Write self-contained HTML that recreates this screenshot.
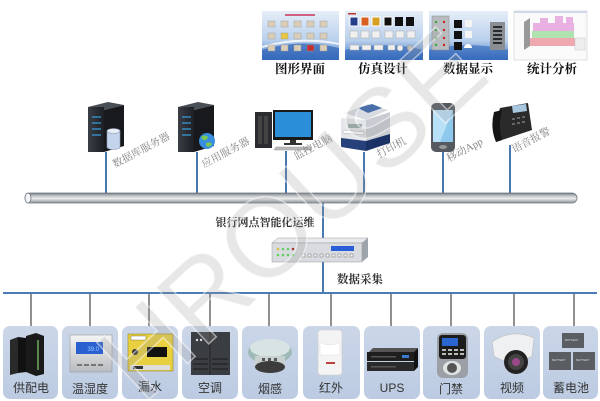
<!DOCTYPE html>
<html><head><meta charset="utf-8">
<style>
html,body{margin:0;padding:0;background:#fff;width:600px;height:401px;overflow:hidden;}
svg{display:block;}
.cap{font-family:"Liberation Serif","Noto Serif CJK SC","Noto Sans CJK SC",serif;font-weight:bold;fill:#111;font-size:12.5px;}
.rot{font-family:"Liberation Serif","Noto Serif CJK SC","Noto Sans CJK SC",serif;fill:#858585;font-size:10.5px;}
.bl{font-family:"Liberation Sans","Noto Sans CJK SC",sans-serif;fill:#333;font-size:12px;}
.mid{font-family:"Liberation Serif","Noto Serif CJK SC","Noto Sans CJK SC",serif;font-weight:bold;fill:#333;}
</style></head>
<body>
<svg width="600" height="401" viewBox="0 0 600 401" xmlns="http://www.w3.org/2000/svg">
<defs>
<linearGradient id="pipe" x1="0" y1="0" x2="0" y2="1">
<stop offset="0" stop-color="#6f7880"/><stop offset="0.25" stop-color="#b8bcc0"/><stop offset="0.55" stop-color="#ececec"/><stop offset="1" stop-color="#8a9096"/>
</linearGradient>
<linearGradient id="scr" x1="0" y1="0" x2="0" y2="1">
<stop offset="0" stop-color="#e6eef8"/><stop offset="0.6" stop-color="#b9d0ec"/><stop offset="1" stop-color="#3d74c4"/>
</linearGradient>
<linearGradient id="srv" x1="0" y1="0" x2="1" y2="0">
<stop offset="0" stop-color="#3a3e45"/><stop offset="1" stop-color="#1c1f24"/>
</linearGradient>
<linearGradient id="sil" x1="0" y1="0" x2="0" y2="1">
<stop offset="0" stop-color="#f4f4f4"/><stop offset="1" stop-color="#b9bcc0"/>
</linearGradient>
<linearGradient id="box" x1="0" y1="0" x2="0" y2="1">
<stop offset="0" stop-color="#cbd6e8"/><stop offset="1" stop-color="#bccbe2"/>
</linearGradient>
</defs>

<!-- ===== top screenshots ===== -->
<g>
<rect x="262" y="11" width="77" height="49" fill="url(#scr)"/>
<path d="M262 50 Q300 38 339 48 L339 60 L262 60Z" fill="#2f64b8" opacity="0.7"/>
<path d="M262 47 Q300 36 339 44" stroke="#fff" stroke-width="2" fill="none" opacity="0.8"/>
<rect x="285" y="14" width="30" height="2" fill="#d06080"/>
<g fill="#d9cdb8" stroke="#999" stroke-width="0.4">
<rect x="268" y="21" width="7" height="6"/><rect x="281" y="21" width="7" height="6"/><rect x="294" y="21" width="7" height="6"/><rect x="307" y="21" width="7" height="6"/><rect x="320" y="21" width="7" height="6"/>
<rect x="268" y="33" width="7" height="6"/><rect x="281" y="33" width="7" height="6" fill="#e8c840"/><rect x="294" y="33" width="7" height="6"/><rect x="307" y="33" width="7" height="6"/><rect x="320" y="33" width="7" height="6"/>
<rect x="268" y="45" width="7" height="6"/><rect x="281" y="45" width="7" height="6"/><rect x="294" y="45" width="7" height="6"/><rect x="307" y="45" width="7" height="6" fill="#c03030"/><rect x="320" y="45" width="7" height="6"/>
</g>

<rect x="345" y="11" width="78" height="49" fill="url(#scr)"/>
<path d="M345 50 Q385 40 423 50 L423 60 L345 60Z" fill="#2f64b8" opacity="0.6"/>
<rect x="348" y="13" width="8" height="1.5" fill="#c03030"/>
<rect x="350" y="17" width="8" height="9" fill="#233f8a" stroke="#fff" stroke-width="1"/>
<rect x="361" y="17" width="8" height="9" fill="#d86020" stroke="#fff" stroke-width="1"/>
<rect x="372" y="17" width="8" height="9" fill="#d8a020" stroke="#fff" stroke-width="1"/>
<rect x="384" y="17" width="8" height="9" fill="#111" stroke="#fff" stroke-width="1"/>
<rect x="395" y="17" width="8" height="9" fill="#111"/>
<rect x="406" y="17" width="8" height="9" fill="#111"/>
<g fill="#f0f0f0" stroke="#aaa" stroke-width="0.5">
<rect x="350" y="31" width="8" height="7"/><rect x="361" y="31" width="8" height="7"/><rect x="372" y="31" width="8" height="7"/><rect x="385" y="31" width="8" height="7"/><rect x="396" y="31" width="8" height="7"/><rect x="407" y="31" width="8" height="7"/>
<rect x="350" y="45" width="9" height="5"/><rect x="362" y="45" width="9" height="5"/><rect x="374" y="45" width="9" height="5"/><rect x="388" y="45" width="7" height="5"/>
</g>
<circle cx="400" cy="48" r="3" fill="#eee" stroke="#999" stroke-width="0.5"/><circle cx="410" cy="48" r="3" fill="#bbb" stroke="#888" stroke-width="0.5"/>

<rect x="429" y="11" width="79" height="49" fill="url(#scr)"/>
<path d="M429 50 Q468 40 508 50 L508 60 L429 60Z" fill="#2f64b8" opacity="0.6"/>
<rect x="432" y="16" width="17" height="34" fill="#b8bcc0" stroke="#888" stroke-width="0.5"/>
<g fill="#3a3"><circle cx="436" cy="22" r="1.2"/><circle cx="436" cy="30" r="1.2"/><circle cx="436" cy="38" r="1.2"/><circle cx="436" cy="45" r="1.2"/></g>
<g fill="#c22"><circle cx="444" cy="22" r="1.2"/><circle cx="444" cy="30" r="1.2"/><circle cx="444" cy="38" r="1.2"/><circle cx="444" cy="45" r="1.2"/></g>
<rect x="454" y="20" width="8" height="8" fill="#111"/><rect x="454" y="31" width="8" height="8" fill="#111"/><rect x="454" y="42" width="8" height="8" fill="#111"/>
<rect x="465" y="20" width="7" height="7" fill="#f4f4f4"/><rect x="465" y="31" width="7" height="7" fill="#f4f4f4"/>
<path d="M464 48 a4 4 0 0 1 8 0z" fill="#fff"/>
<rect x="490" y="22" width="15" height="28" fill="#8a8e92"/>
<g fill="#2a2d30"><rect x="493" y="26" width="9" height="2"/><rect x="493" y="30" width="9" height="2"/><rect x="493" y="34" width="9" height="2"/><rect x="493" y="38" width="9" height="2"/><rect x="493" y="42" width="9" height="2"/></g>

<rect x="514" y="11" width="73" height="49" fill="#fafafa" stroke="#ccc" stroke-width="0.6"/>
<rect x="514" y="11" width="73" height="2" fill="#d0d8e8"/>
<path d="M524 22 L530 18 L530 46 L524 50Z" fill="#999"/>
<g opacity="0.9">
<rect x="530" y="38" width="45" height="8" fill="#f0a0a8"/>
<rect x="532" y="31" width="42" height="7" fill="#a8e0a8"/>
<rect x="533" y="23" width="41" height="8" fill="#e8a8e0"/>
<rect x="540" y="18" width="8" height="5" fill="#e8a8e0"/><rect x="555" y="16" width="8" height="7" fill="#e8a8e0"/><rect x="566" y="17" width="7" height="6" fill="#e8a8e0"/>
</g>
<rect x="575" y="38" width="10" height="12" fill="#eee" stroke="#bbb" stroke-width="0.4"/>

<text class="cap" x="300" y="73" text-anchor="middle">图形界面</text>
<text class="cap" x="383" y="73" text-anchor="middle">仿真设计</text>
<text class="cap" x="468" y="73" text-anchor="middle">数据显示</text>
<text class="cap" x="552" y="73" text-anchor="middle">统计分析</text>
</g>

<!-- ===== vertical connectors to pipe ===== -->
<g stroke="#4a78b0" stroke-width="2">
<line x1="106" y1="152" x2="106" y2="194"/>
<line x1="197" y1="152" x2="197" y2="194"/>
<line x1="286" y1="151" x2="286" y2="194"/>
<line x1="364" y1="152" x2="364" y2="194"/>
<line x1="443" y1="152" x2="443" y2="194"/>
<line x1="510" y1="145" x2="510" y2="194"/>
<line x1="323" y1="202" x2="323" y2="240"/>
<line x1="323" y1="260" x2="323" y2="293"/>
</g>

<!-- ===== pipe ===== -->
<rect x="25" y="193" width="552" height="10" rx="5" fill="url(#pipe)" stroke="#6d7680" stroke-width="0.8"/>
<ellipse cx="28" cy="198" rx="3" ry="5" fill="#f4f4f4" stroke="#6d7680" stroke-width="0.8"/>

<!-- ===== top devices ===== -->
<path d="M88 107 L108 102 L124 105 L104 110Z" fill="#4a4e55"/>
<path d="M104 110 L124 105 L124 146 L104 152Z" fill="#17191c"/>
<rect x="88" y="107" width="16" height="45" fill="url(#srv)"/>
<g stroke="#3aa0e0" stroke-width="1.2"><line x1="92" y1="117" x2="101" y2="117"/><line x1="92" y1="123" x2="101" y2="123"/><line x1="92" y1="129" x2="101" y2="129"/><line x1="92" y1="135" x2="101" y2="135"/></g>
<path d="M107 131 L107 147 A6.5 2.5 0 0 0 120 147 L120 131Z" fill="#c4d4ec" stroke="#8a9ab8" stroke-width="0.6"/>
<ellipse cx="113.5" cy="131" rx="6.5" ry="2.5" fill="#e8eef8" stroke="#8a9ab8" stroke-width="0.6"/>

<path d="M178 107 L198 102 L214 105 L194 110Z" fill="#4a4e55"/>
<path d="M194 110 L214 105 L214 146 L194 152Z" fill="#17191c"/>
<rect x="178" y="107" width="16" height="45" fill="url(#srv)"/>
<g stroke="#3aa0e0" stroke-width="1.2"><line x1="182" y1="117" x2="191" y2="117"/><line x1="182" y1="123" x2="191" y2="123"/><line x1="182" y1="129" x2="191" y2="129"/><line x1="182" y1="135" x2="191" y2="135"/></g>
<circle cx="207" cy="141" r="8" fill="#3a8ee0"/>
<path d="M201 137 q4 -3 7 0 q-1 4 -5 3z M206 143 q4 -2 6 1 q-2 4 -6 2z" fill="#7cc850"/>

<rect x="255" y="112" width="17" height="36" fill="#2a2c30"/>
<rect x="258" y="116" width="4" height="28" fill="#444"/><rect x="264" y="116" width="4" height="28" fill="#444"/>
<rect x="273" y="110" width="40" height="30" fill="#1a1a1a"/>
<rect x="275" y="112" width="36" height="25" fill="#2a8fd8"/>
<rect x="290" y="140" width="6" height="4" fill="#333"/><rect x="284" y="143" width="18" height="2" fill="#333"/>
<path d="M276 147 L310 147 L312 150 L274 150Z" fill="#bbb" stroke="#888" stroke-width="0.4"/>

<path d="M345 113 L368 104 L388 110 L366 120Z" fill="#d8dce2"/>
<path d="M358 108 L372 104 L382 108 L368 113Z" fill="#4a6ea8"/>
<path d="M341 118 L366 120 L366 150 L341 146Z" fill="#e4e6ea"/>
<path d="M366 120 L390 112 L390 142 L366 150Z" fill="#c8ccd2"/>
<path d="M341 138 L366 141 L366 151 L341 147Z" fill="#26407a"/>
<path d="M366 141 L390 134 L390 143 L366 151Z" fill="#1c3266"/>
<rect x="348" y="124" width="14" height="4" fill="#9aa"/>
<path d="M343 130 L364 132 L364 135 L343 133Z" fill="#fff" stroke="#999" stroke-width="0.4"/>

<rect x="431" y="103" width="24" height="49" rx="5" fill="#555a60"/>
<rect x="433" y="110" width="20" height="32" fill="#8ec8ec"/>
<path d="M433 110 L453 110 L440 142 L433 142Z" fill="#b8e0f6"/>
<ellipse cx="443" cy="147" rx="4" ry="2" fill="#999"/>

<path d="M500 108 L528 103 L532 130 L496 142 L494 130Z" fill="#2a2a2a"/>
<path d="M494 112 Q490 128 496 142 L502 140 Q498 126 502 110Z" fill="#151515"/>
<path d="M512 106 L526 104 L527 111 L513 113Z" fill="#a8c8e0"/>
<g fill="#666"><rect x="512" y="118" width="3" height="2"/><rect x="517" y="117" width="3" height="2"/><rect x="522" y="116" width="3" height="2"/><rect x="512" y="123" width="3" height="2"/><rect x="517" y="122" width="3" height="2"/><rect x="522" y="121" width="3" height="2"/></g>

<text class="rot" transform="translate(115,168) rotate(-28)">数据库服务器</text>
<text class="rot" transform="translate(204,168) rotate(-28)">应用服务器</text>
<text class="rot" transform="translate(296,160) rotate(-28)">监控电脑</text>
<text class="rot" transform="translate(379,158) rotate(-28)">打印机</text>
<text class="rot" transform="translate(449,162) rotate(-28)">移动App</text>
<text class="rot" transform="translate(514,153) rotate(-28)">语音报警</text>

<!-- ===== switch ===== -->
<path d="M272 243 L278 238 L368 238 L362 243Z" fill="#e8eaee" stroke="#999" stroke-width="0.5"/>
<path d="M362 243 L368 238 L368 257 L362 262Z" fill="#9ea4ac"/>
<rect x="272" y="243" width="90" height="19" fill="#d8dce0" stroke="#999" stroke-width="0.5"/>
<g><circle cx="278" cy="249" r="1.3" fill="#d8c040"/><circle cx="283" cy="249" r="1.3" fill="#6c6"/><circle cx="288" cy="249" r="1.3" fill="#6c6"/><circle cx="293" cy="249" r="1.3" fill="#a33"/>
<circle cx="278" cy="255" r="1.3" fill="#6c6"/><circle cx="283" cy="255" r="1.3" fill="#6c6"/><circle cx="288" cy="255" r="1.3" fill="#6c6"/><circle cx="293" cy="255" r="1.3" fill="#6c6"/></g>
<rect x="331" y="246" width="23" height="5" fill="#2a5ed8"/>
<g fill="#f4f4f4" stroke="#777" stroke-width="0.5">
<rect x="302" y="254" width="3" height="3"/><rect x="308" y="254" width="3" height="3"/><rect x="314" y="254" width="3" height="3"/><rect x="320" y="254" width="3" height="3"/><rect x="326" y="254" width="3" height="3"/><rect x="332" y="254" width="3" height="3"/><rect x="338" y="254" width="3" height="3"/><rect x="344" y="254" width="3" height="3"/><rect x="350" y="254" width="3" height="3"/>
</g>
<text class="mid" x="265" y="226" text-anchor="middle" font-size="11">银行网点智能化运维</text>
<text class="mid" x="360" y="283" text-anchor="middle" font-size="11.5">数据采集</text>

<!-- ===== bus ===== -->
<line x1="3" y1="293" x2="597" y2="293" stroke="#4a7cb5" stroke-width="2"/>
<g stroke="#6a6a6a" stroke-width="1.5">
<line x1="31" y1="294" x2="31" y2="327"/><line x1="90" y1="294" x2="90" y2="327"/><line x1="149" y1="294" x2="149" y2="327"/><line x1="210" y1="294" x2="210" y2="327"/><line x1="269" y1="294" x2="269" y2="327"/>
<line x1="331" y1="294" x2="331" y2="327"/><line x1="391" y1="294" x2="391" y2="327"/><line x1="451" y1="294" x2="451" y2="327"/><line x1="514" y1="294" x2="514" y2="327"/><line x1="574" y1="294" x2="574" y2="327"/>
</g>

<!-- ===== bottom boxes ===== -->
<g fill="url(#box)">
<rect x="3" y="326" width="55" height="73" rx="7"/>
<rect x="62" y="326" width="56" height="73" rx="7"/>
<rect x="122" y="326" width="56" height="73" rx="7"/>
<rect x="182" y="326" width="56" height="73" rx="7"/>
<rect x="242" y="326" width="56" height="73" rx="7"/>
<rect x="303" y="326" width="57" height="73" rx="7"/>
<rect x="364" y="326" width="56" height="73" rx="7"/>
<rect x="423" y="326" width="57" height="73" rx="7"/>
<rect x="484" y="326" width="56" height="73" rx="7"/>
<rect x="543" y="326" width="55" height="73" rx="7"/>
</g>

<path d="M10 340 L18 337 L18 373 L10 375Z" fill="#2a2a2a"/>
<path d="M18 337 L26 338 L26 372 L18 373Z" fill="#111"/>
<path d="M26 336 L36 333 L44 336 L44 374 L36 376 L26 372Z" fill="#1a1a1a"/>
<rect x="37" y="340" width="2" height="30" fill="#5a8a4a"/>

<rect x="70" y="335" width="42" height="37" fill="url(#sil)" stroke="#999" stroke-width="0.6"/>
<rect x="76" y="342" width="27" height="12" fill="#2a60d0"/>
<text x="99" y="351" font-family="Liberation Sans,sans-serif" font-size="6" fill="#9cf" text-anchor="end">39.0</text>
<g fill="#777"><rect x="77" y="364" width="5" height="2"/><rect x="84" y="364" width="5" height="2"/><rect x="91" y="364" width="5" height="2"/><rect x="98" y="364" width="5" height="2"/></g>

<rect x="128" y="334" width="45" height="37" fill="#e8d040" stroke="#998820" stroke-width="0.6"/>
<rect x="131" y="336" width="15" height="4" fill="#fff" stroke="#333" stroke-width="0.3"/>
<rect x="147" y="347" width="20" height="10" fill="#111"/>
<circle cx="135" cy="352" r="3" fill="#333"/>
<rect x="130" y="365" width="40" height="5" fill="#ddd"/>
<rect x="133" y="366" width="10" height="3" fill="#333"/>

<rect x="191" y="332" width="39" height="43" fill="#3a3d42"/>
<line x1="210" y1="332" x2="210" y2="375" stroke="#222"/>
<g stroke="#222" stroke-width="1.2"><line x1="193" y1="359" x2="208" y2="359"/><line x1="193" y1="364" x2="208" y2="364"/><line x1="193" y1="369" x2="208" y2="369"/><line x1="212" y1="359" x2="228" y2="359"/><line x1="212" y1="364" x2="228" y2="364"/><line x1="212" y1="369" x2="228" y2="369"/></g>
<circle cx="197" cy="340" r="1.2" fill="#ddd"/><circle cx="201" cy="340" r="1.2" fill="#ddd"/>

<ellipse cx="270" cy="352" rx="22" ry="12" fill="#9fb8b8"/>
<ellipse cx="270" cy="348" rx="20" ry="9" fill="#d8e4e4"/>
<rect x="255" y="356" width="30" height="10" fill="#c8d0d0"/>
<ellipse cx="270" cy="367" rx="15" ry="6" fill="#3c3c3c"/>
<g fill="#555"><rect x="262" y="358" width="3" height="3"/><rect x="268" y="358" width="3" height="3"/><rect x="274" y="358" width="3" height="3"/></g>

<rect x="318" y="330" width="24" height="45" rx="3" fill="#f4f4f4" stroke="#ccc" stroke-width="0.6"/>
<path d="M320 342 Q330 348 340 342 L340 355 L320 355Z" fill="#fff" stroke="#ddd" stroke-width="0.5"/>
<rect x="326" y="362" width="9" height="2" fill="#c04040"/>

<path d="M369 352 L373 348 L418 348 L414 352Z" fill="#555"/>
<rect x="367" y="352" width="47" height="9" fill="#1e1e1e"/>
<rect x="367" y="362" width="47" height="9" fill="#2a2a2a"/>
<path d="M414 352 L418 348 L418 367 L414 371Z" fill="#111"/>
<rect x="402" y="355" width="7" height="3" fill="#3a7ad0"/>
<rect x="371" y="356" width="25" height="1.5" fill="#555"/><rect x="371" y="366" width="25" height="1.5" fill="#555"/>

<rect x="437" y="333" width="31" height="45" rx="6" fill="#9aa0a6"/>
<rect x="439" y="335" width="27" height="24" rx="3" fill="#1c1c1c"/>
<rect x="442" y="338" width="16" height="8" fill="#2a66d0"/>
<g fill="#bbb"><rect x="442" y="349" width="4" height="2"/><rect x="448" y="349" width="4" height="2"/><rect x="454" y="349" width="4" height="2"/><rect x="460" y="349" width="4" height="2"/><rect x="442" y="353" width="4" height="2"/><rect x="448" y="353" width="4" height="2"/><rect x="454" y="353" width="4" height="2"/><rect x="460" y="353" width="4" height="2"/></g>
<ellipse cx="452" cy="368" rx="9" ry="7" fill="#e0e2e4"/><circle cx="452" cy="368" r="5" fill="#555"/>

<path d="M492 342 Q512 328 534 338 L532 356 Q512 368 494 356Z" fill="#eef0f2" stroke="#bbb" stroke-width="0.6"/>
<circle cx="516" cy="362" r="12" fill="#222"/>
<circle cx="516" cy="362" r="8" fill="#444"/>
<circle cx="516" cy="362" r="4" fill="#9a4a8a"/>

<g>
<rect x="562" y="333" width="22" height="15" fill="#5a5e62"/>
<rect x="549" y="352" width="22" height="18" fill="#5a5e62"/>
<rect x="573" y="352" width="22" height="18" fill="#5a5e62"/>
<g font-family="Liberation Sans,sans-serif" font-size="3" fill="#ddd">
<text x="565" y="341">BATTERY</text><text x="552" y="361">BATTERY</text><text x="576" y="361">BATTERY</text>
</g>
</g>

<g class="bl" text-anchor="middle">
<text x="31" y="392">供配电</text>
<text x="90" y="393">温湿度</text>
<text x="150" y="391">漏水</text>
<text x="210" y="392">空调</text>
<text x="270" y="393">烟感</text>
<text x="331" y="392">红外</text>
<text x="392" y="392">UPS</text>
<text x="451" y="393">门禁</text>
<text x="512" y="392">视频</text>
<text x="571" y="392">蓄电池</text>
</g>

<!-- ===== watermark ===== -->
<text x="0" y="0" transform="translate(318,242) rotate(-43)" text-anchor="middle" font-family="Liberation Sans,sans-serif" font-size="112" fill="#9a9a9a" fill-opacity="0.24" stroke="#ffffff" stroke-opacity="0.5" stroke-width="1.5">HROUSE</text>
</svg>
</body></html>
